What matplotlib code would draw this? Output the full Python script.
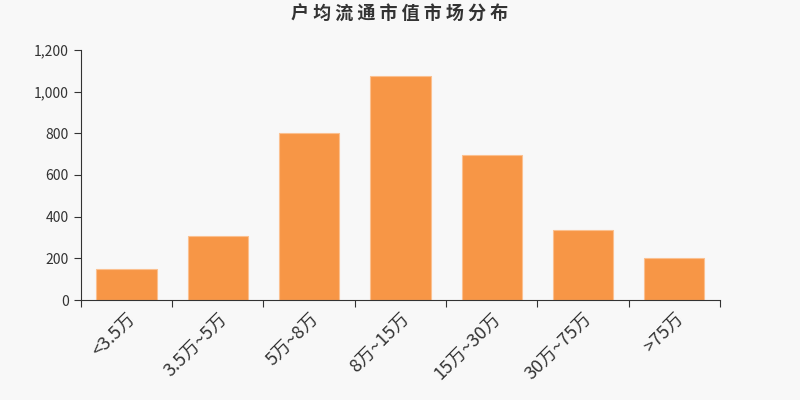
import matplotlib.pyplot as plt
from matplotlib.ticker import FuncFormatter
import numpy as np

plt.rcParams['font.family'] = ['Noto Sans CJK SC', 'DejaVu Sans']

categories = ["<3.5万", "3.5万~5万", "5万~8万", "8万~15万", "15万~30万", "30万~75万", ">75万"]
counts = [149, 308, 800, 1076, 696, 338, 200]

bg = "#f8f8f8"
fig = plt.figure(figsize=(8, 4), dpi=100, facecolor=bg)
ax = fig.add_axes([0.101, 0.25, 0.799, 0.625], facecolor=bg)

x = np.arange(len(categories))
ax.bar(x, counts, width=0.66, color="#f79646", edgecolor="#fbc08f", linewidth=0.8)

ax.set_xlim(-0.5, len(categories) - 0.5)
ax.set_ylim(0, 1200)
ax.set_yticks(range(0, 1201, 200))
ax.yaxis.set_major_formatter(FuncFormatter(lambda v, p: f"{int(v):,}"))

# ticks sit between categories, labels sit under the bars
ax.set_xticks(np.arange(-0.5, len(categories), 1.0))
ax.set_xticklabels([])
ax.set_xticks(x, minor=True)
ax.set_xticklabels(categories, minor=True, rotation=45, ha="right",
                   rotation_mode="anchor", fontsize=13, color="#333333")
ax.tick_params(axis="x", which="minor", length=0, pad=7)
ax.tick_params(axis="x", which="major", length=5, color="#333333")
ax.tick_params(axis="y", length=5, color="#333333", labelsize=10, labelcolor="#333333")

for s in ["top", "right"]:
    ax.spines[s].set_visible(False)
for s in ["left", "bottom"]:
    ax.spines[s].set_color("#333333")

fig.text(0.5, 0.965, "户 均 流 通 市 值 市 场 分 布", ha="center", va="center",
         fontsize=13, fontweight="bold", color="#333333")

plt.savefig("out.png", dpi=100, facecolor=bg)
